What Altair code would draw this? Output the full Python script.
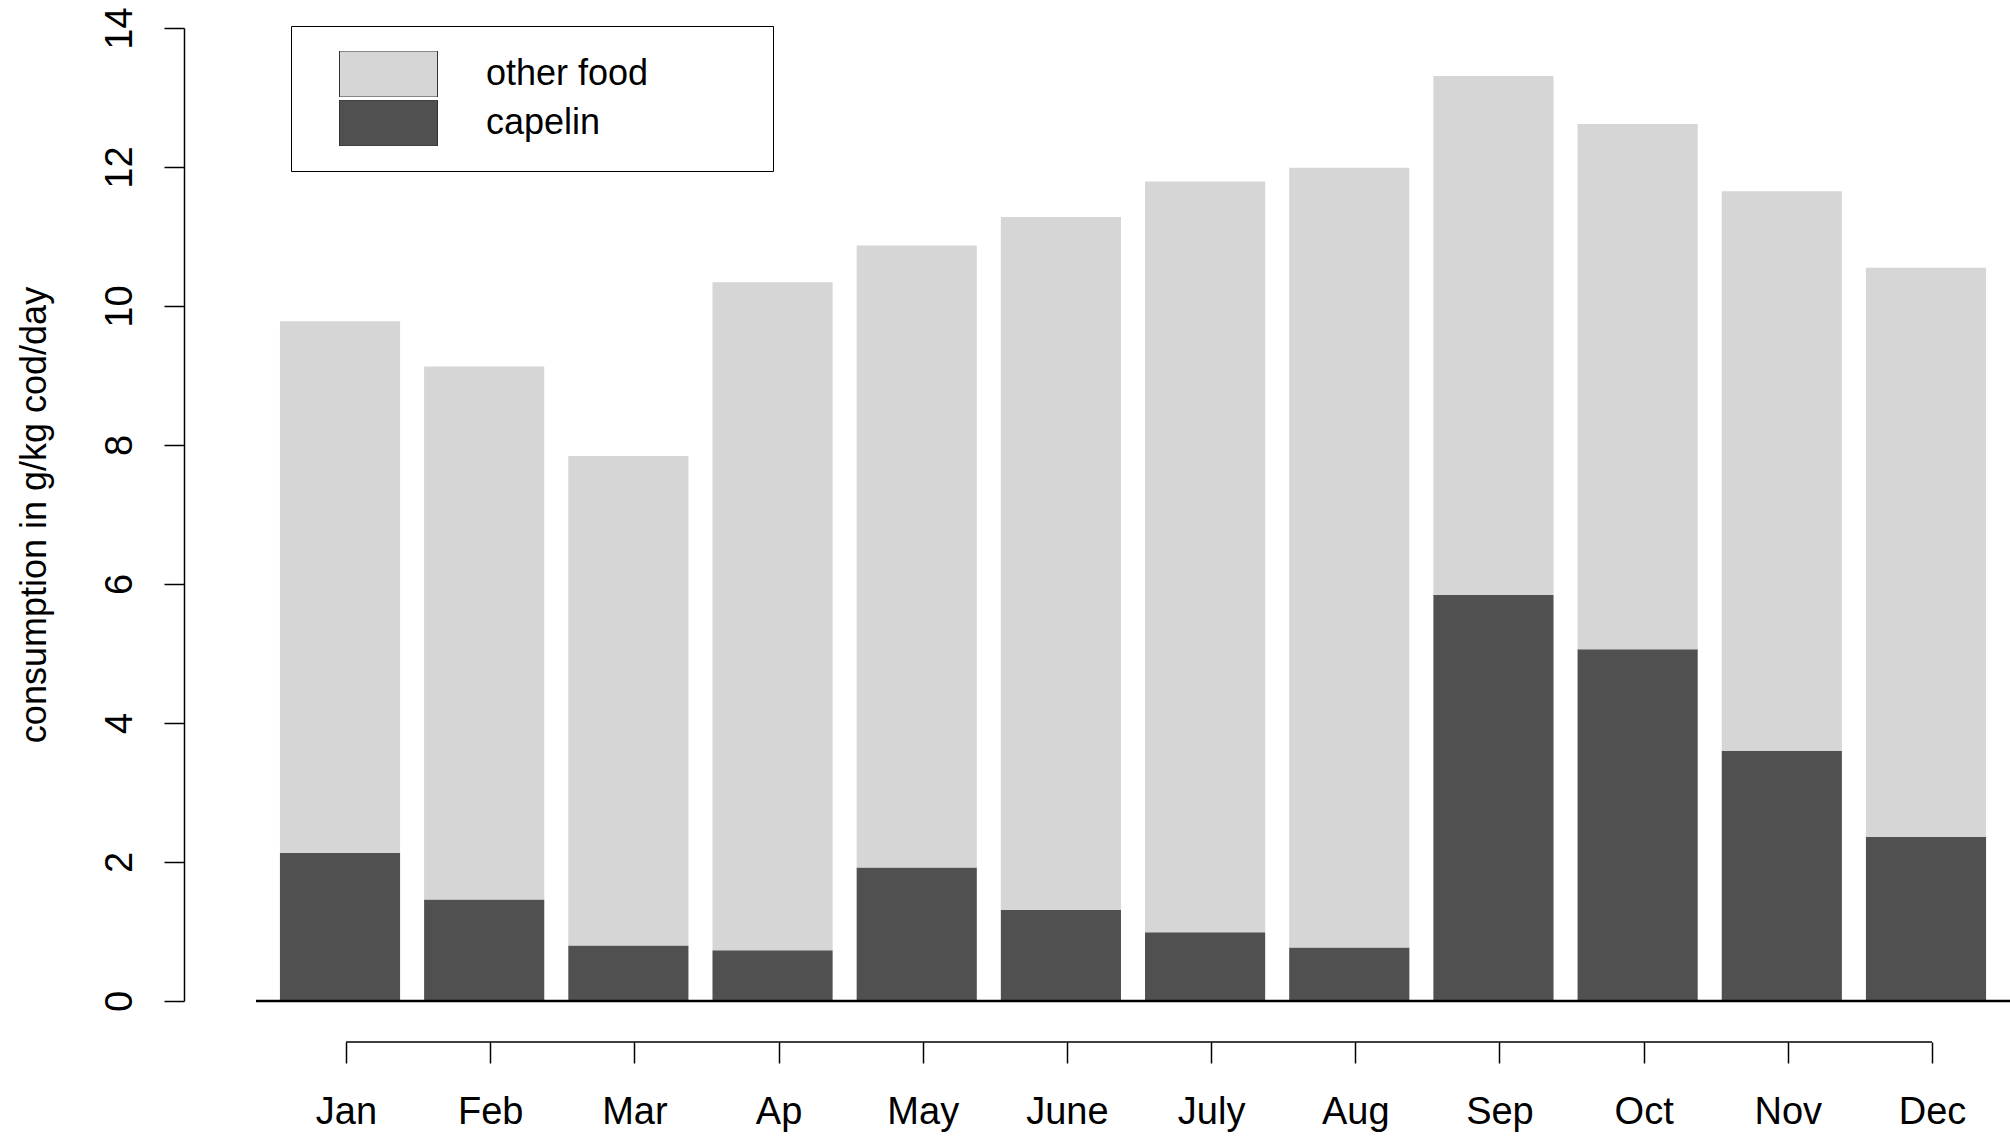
import altair as alt
import pandas as pd

# Monthly food consumption of cod (g per kg cod per day)
months = ["Jan", "Feb", "Mar", "Ap", "May", "June", "July", "Aug", "Sep", "Oct", "Nov", "Dec"]
total_consumption = [9.78, 9.13, 7.84, 10.34, 10.87, 11.28, 11.79, 11.99, 13.31, 12.62, 11.65, 10.55]
capelin = [2.13, 1.46, 0.80, 0.73, 1.92, 1.31, 0.99, 0.77, 5.84, 5.06, 3.60, 2.36]

food_types = ["other food", "capelin"]
food_colors = ["#d6d6d6", "#505050"]
y_ticks = [0, 2, 4, 6, 8, 10, 12, 14]

FONT = "Liberation Sans"
W, H = 1754, 973

# long table: capelin sits at the bottom, other food stacked above it
rows = []
for m, tot, cap in zip(months, total_consumption, capelin):
    rows.append({"month": m, "food": "capelin", "low": 0.0, "high": cap})
    rows.append({"month": m, "food": "other food", "low": cap, "high": tot})
df = pd.DataFrame(rows)

x_scale = alt.Scale(domain=months, paddingInner=0.2 / 1.2, paddingOuter=0.166)
y_scale = alt.Scale(domain=[0, 14], nice=False, zero=True)

bars = alt.Chart(df).mark_bar(strokeWidth=0).encode(
    x=alt.X(
        "month:N",
        scale=x_scale,
        sort=months,
        axis=alt.Axis(
            title=None,
            orient="bottom",
            offset=41,
            domain=False,
            grid=False,
            tickSize=21,
            tickWidth=1.5,
            tickColor="black",
            tickOffset=6,
            labelAngle=0,
            labelAlign="center",
            labelBaseline="alphabetic",
            labelPadding=60,
            labelFont=FONT,
            labelFontSize=38,
            labelColor="black",
        ),
    ),
    y=alt.Y(
        "high:Q",
        scale=y_scale,
        axis=alt.Axis(
            values=y_ticks,
            format="d",
            title="consumption in g/kg cod/day",
            orient="left",
            offset=72,
            grid=False,
            domainColor="black",
            domainWidth=1.5,
            tickSize=20,
            tickWidth=1.5,
            tickColor="black",
            labelAngle=270,
            labelAlign="center",
            labelBaseline="alphabetic",
            labelPadding=33,
            labelFont=FONT,
            labelFontSize=38,
            labelColor="black",
            titleFont=FONT,
            titleFontSize=36,
            titleFontWeight="normal",
            titleColor="black",
            titleAngle=270,
            titleAlign="center",
            titleBaseline="alphabetic",
            titleX=-139,
            titleY=H / 2,
        ),
    ),
    y2="low:Q",
    color=alt.Color(
        "food:N",
        scale=alt.Scale(domain=food_types, range=food_colors),
        legend=alt.Legend(
            title=" ",
            titleOrient="right",
            titlePadding=100,
            titleFontSize=10,
            orient="none",
            legendX=35,
            legendY=-2,
            direction="vertical",
            symbolType="M-1,-0.47H1V0.47H-1Z",
            symbolSize=9604,
            symbolStrokeColor="#333333",
            symbolStrokeWidth=1,
            symbolOpacity=1,
            clipHeight=46,
            rowPadding=3,
            padding=25,
            symbolOffset=23,
            labelOffset=48,
            labelFont=FONT,
            labelFontSize=36,
            labelColor="black",
            labelLimit=0,
            strokeColor="black",
            fillColor="white",
        ),
    ),
)

# zero line running under the bars
baseline = alt.Chart(pd.DataFrame({"v": [0]})).mark_rule(
    color="black", strokeWidth=2.5
).encode(y=alt.datum(0))

# month axis line from the first to the last tick
axis_line = alt.Chart(pd.DataFrame({"v": [0]})).mark_rule(
    color="black", strokeWidth=1.5, xOffset=6, x2Offset=6, yOffset=41
).encode(
    x=alt.datum(months[0]),
    x2=alt.datum(months[-1]),
    y=alt.datum(0),
)

chart = (
    alt.layer(bars, baseline, axis_line)
    .properties(
        width=W,
        height=H,
        background="white",
        autosize=alt.AutoSizeParams(type="none"),
        padding={"left": 256, "top": 28, "right": 0, "bottom": 135},
    )
    .configure_view(strokeWidth=0, stroke=None, fill="white")
)

chart.save("out.html", embed_options={"renderer": "svg", "actions": False})
